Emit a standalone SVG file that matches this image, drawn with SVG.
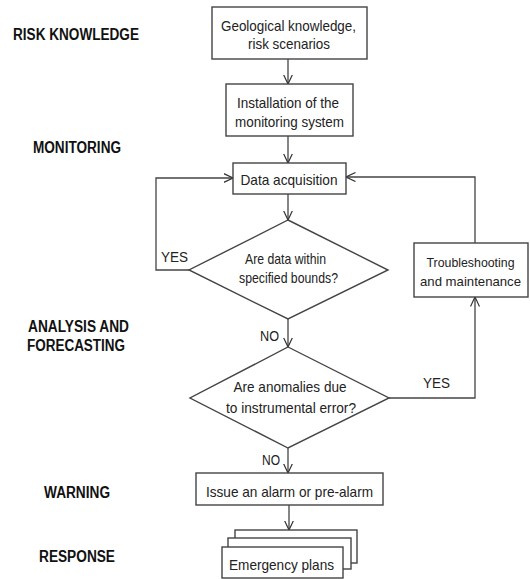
<svg xmlns="http://www.w3.org/2000/svg" width="530" height="579" viewBox="0 0 530 579">
<defs>
<marker id="arr" viewBox="0 0 10 10" refX="9.5" refY="5" markerWidth="10" markerHeight="10" markerUnits="userSpaceOnUse" orient="auto">
<path d="M0,0.5 L9.5,5 L0,9.5" fill="none" stroke="#333" stroke-width="1.2"/>
</marker>
<style>
.bx{fill:#fff;stroke:#444;stroke-width:1.4}
.ln{fill:none;stroke:#444;stroke-width:1.3}
.t{font-family:"Liberation Sans",Arial,sans-serif;font-size:15px;fill:#222;text-anchor:middle}
.ts{font-size:13.5px}
.lb{font-family:"Liberation Sans",Arial,sans-serif;font-size:16px;font-weight:bold;fill:#111;text-anchor:middle}
</style>
</defs>
<rect width="530" height="579" fill="#fff"/>

<g id="labels">
<text class="lb" x="76" y="40" textLength="126" lengthAdjust="spacingAndGlyphs">RISK KNOWLEDGE</text>
<text class="lb" x="77" y="153" textLength="88" lengthAdjust="spacingAndGlyphs">MONITORING</text>
<text class="lb" x="78.5" y="332" textLength="101" lengthAdjust="spacingAndGlyphs">ANALYSIS AND</text>
<text class="lb" x="76" y="351" textLength="98" lengthAdjust="spacingAndGlyphs">FORECASTING</text>
<text class="lb" x="77" y="498" textLength="66" lengthAdjust="spacingAndGlyphs">WARNING</text>
<text class="lb" x="77" y="562" textLength="76" lengthAdjust="spacingAndGlyphs">RESPONSE</text>
</g>

<g id="connectors">
<line class="ln" x1="288" y1="59" x2="288" y2="84" marker-end="url(#arr)"/>
<line class="ln" x1="288" y1="136" x2="288" y2="163" marker-end="url(#arr)"/>
<line class="ln" x1="288" y1="194" x2="288" y2="220" marker-end="url(#arr)"/>
<line class="ln" x1="288" y1="319" x2="288" y2="347" marker-end="url(#arr)"/>
<line class="ln" x1="288" y1="448" x2="288" y2="473" marker-end="url(#arr)"/>
<line class="ln" x1="289" y1="505" x2="289" y2="530" marker-end="url(#arr)"/>
<polyline class="ln" points="189,270 156,270 156,178 233,178" marker-end="url(#arr)"/>
<polyline class="ln" points="389,398 475,398 475,297" marker-end="url(#arr)"/>
<polyline class="ln" points="475,243 475,177 346,177" marker-end="url(#arr)"/>
<text class="t" x="174.5" y="262" textLength="27" lengthAdjust="spacingAndGlyphs">YES</text>
<text class="t" x="269.5" y="341" textLength="19" lengthAdjust="spacingAndGlyphs">NO</text>
<text class="t" x="436.5" y="388" textLength="27" lengthAdjust="spacingAndGlyphs">YES</text>
<text class="t" x="271" y="465" textLength="18" lengthAdjust="spacingAndGlyphs">NO</text>
</g>

<g id="geo">
<rect class="bx" x="212" y="7" width="155" height="52"/>
<text class="t" x="288.5" y="31" textLength="135" lengthAdjust="spacingAndGlyphs">Geological knowledge,</text>
<text class="t" x="289" y="49" textLength="82" lengthAdjust="spacingAndGlyphs">risk scenarios</text>
</g>

<g id="install">
<rect class="bx" x="226" y="84" width="127" height="52"/>
<text class="t" x="288" y="108" textLength="102" lengthAdjust="spacingAndGlyphs">Installation of the</text>
<text class="t" x="289.5" y="127" textLength="109" lengthAdjust="spacingAndGlyphs">monitoring system</text>
</g>

<g id="data">
<rect class="bx" x="233" y="163" width="113" height="31"/>
<text class="t" x="289" y="185" textLength="97" lengthAdjust="spacingAndGlyphs">Data acquisition</text>
</g>

<g id="bounds">
<polygon class="bx" points="288,220 388,270 288,319 189,270"/>
<text class="t" x="285.5" y="264" textLength="81" lengthAdjust="spacingAndGlyphs">Are data within</text>
<text class="t" x="288.5" y="283" textLength="99" lengthAdjust="spacingAndGlyphs">specified bounds?</text>
</g>

<g id="trouble">
<rect class="bx" x="414" y="243" width="114" height="54"/>
<text class="t ts" x="470.5" y="267" textLength="88" lengthAdjust="spacingAndGlyphs">Troubleshooting</text>
<text class="t ts" x="470.5" y="286" textLength="101" lengthAdjust="spacingAndGlyphs">and maintenance</text>
</g>

<g id="anomalies">
<polygon class="bx" points="288,347 389,398 288,448 190,398"/>
<text class="t" x="290" y="392" textLength="113" lengthAdjust="spacingAndGlyphs">Are anomalies due</text>
<text class="t" x="291" y="413" textLength="130" lengthAdjust="spacingAndGlyphs">to instrumental error?</text>
</g>

<g id="alarm">
<rect class="bx" x="196" y="473" width="187" height="32"/>
<text class="t" x="289.5" y="497" textLength="167" lengthAdjust="spacingAndGlyphs">Issue an alarm or pre-alarm</text>
</g>

<g id="plans">
<rect class="bx" x="235" y="530" width="122" height="33"/>
<rect class="bx" x="228" y="538" width="123" height="31"/>
<rect class="bx" x="222" y="547" width="121" height="31"/>
<text class="t" x="281.5" y="570" textLength="105" lengthAdjust="spacingAndGlyphs">Emergency plans</text>
</g>
</svg>
